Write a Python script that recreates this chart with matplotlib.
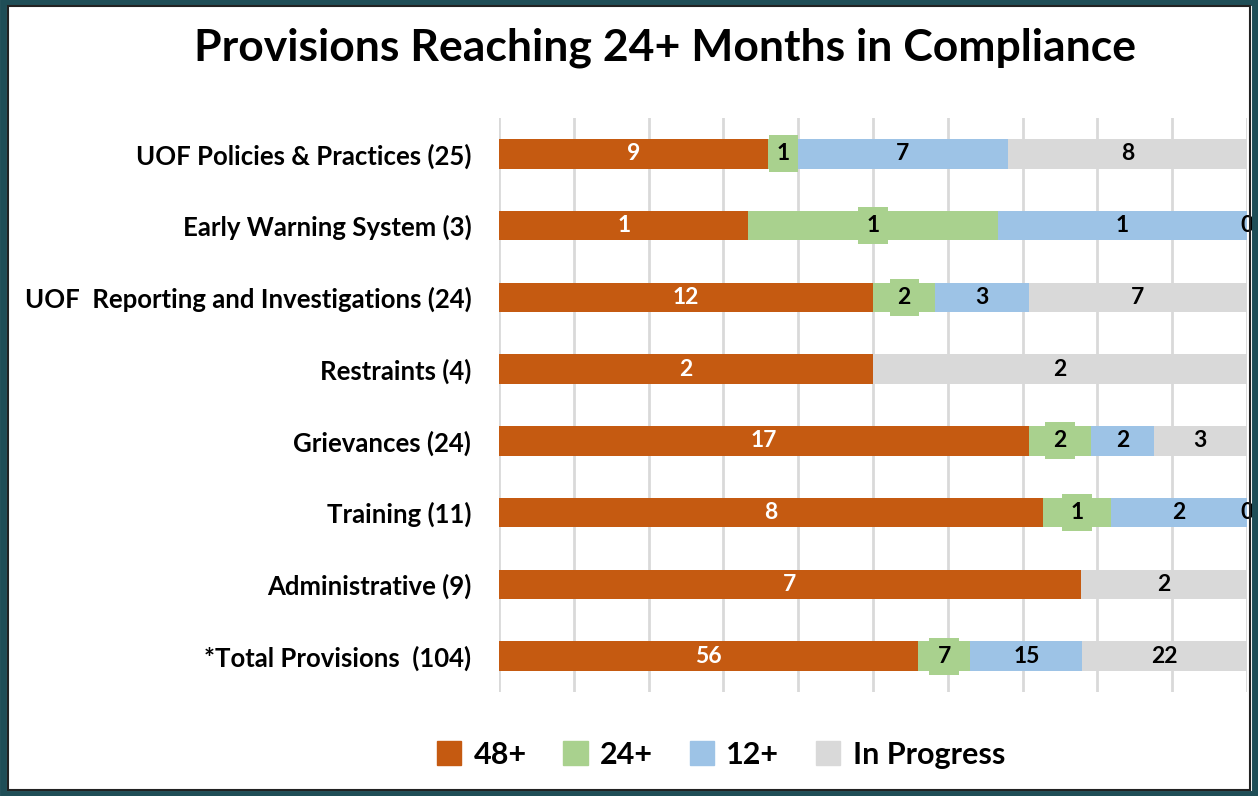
import matplotlib.pyplot as plt
import numpy as np
from matplotlib.patches import Rectangle

plt.rcParams['font.family'] = ['Lato', 'DejaVu Sans']
plt.rcParams['font.weight'] = 'bold'

categories = ["UOF Policies & Practices (25)", "Early Warning System (3)",
              "UOF  Reporting and Investigations (24)", "Restraints (4)",
              "Grievances (24)", "Training (11)", "Administrative (9)",
              "*Total Provisions  (104)"]
m48 = [9, 1, 12, 2, 17, 8, 7, 56]
m24 = [1, 1, 2, 0, 2, 1, 0, 7]
m12 = [7, 1, 3, 0, 2, 2, 0, 15]
in_prog = [8, 0, 7, 2, 3, 0, 2, 22]
series_names = ["48+", "24+", "12+", "In Progress"]

colors = ["#C55A11", "#A9D18E", "#9DC3E6", "#D9D9D9"]
label_colors = ["white", "black", "black", "black"]

fig = plt.figure(figsize=(12.58, 7.96), dpi=100)
ax = fig.add_axes([0.3967, 0.1307, 0.5946, 0.7211])

data = np.array([m48, m24, m12, in_prog], dtype=float)
totals = data.sum(axis=0)
pct = data / totals * 100
y = np.arange(len(categories))

left = np.zeros(len(categories))
for k in range(4):
    ax.barh(y, pct[k], left=left, height=0.41, color=colors[k], zorder=2)
    for i in range(len(categories)):
        v = int(data[k, i])
        if v == 0 and k != 3:
            continue
        cx = left[i] + pct[k, i] / 2
        if v == 0:
            cx = 100
        if k == 1:
            ax.text(cx, y[i], str(v), ha='center', va='center', fontsize=16.5,
                    color=label_colors[k], zorder=4,
                    bbox=dict(boxstyle='square,pad=0.35', fc=colors[1], ec='none'))
        else:
            ax.text(cx, y[i], str(v), ha='center', va='center', fontsize=16.5,
                    color=label_colors[k], zorder=4)
    left += pct[k]

ax.set_xlim(0, 100)
ax.set_ylim(len(categories) - 0.5, -0.5)
ax.set_xticks(np.arange(0, 101, 10))
ax.set_xticklabels([])
ax.tick_params(axis='x', length=0)
ax.tick_params(axis='y', length=0, labelsize=18.5, pad=20)
ax.set_yticks(y)
ax.set_yticklabels(categories)
ax.grid(axis='x', color='#D9D9D9', linewidth=2, zorder=0)
for s in ax.spines.values():
    s.set_visible(False)

fig.text(0.529, 0.94, "Provisions Reaching 24+ Months in Compliance",
         ha='center', va='center', fontsize=32, fontweight='bold')

handles = [Rectangle((0, 0), 1, 1, color=c) for c in colors]
fig.legend(handles, series_names, loc='center', bbox_to_anchor=(0.573, 0.052),
           ncol=4, frameon=False, fontsize=22, handlelength=0.8, handleheight=0.8,
           columnspacing=1.2, handletextpad=0.4)

# frame around the picture
fig.patches.append(Rectangle((0.002, 0.003), 0.996, 0.994, transform=fig.transFigure,
                             fill=False, ec='#1F4E57', lw=5))
fig.patches.append(Rectangle((0.006, 0.008), 0.988, 0.984, transform=fig.transFigure,
                             fill=False, ec='#222222', lw=1.5))

fig.savefig("out.png", dpi=100)
